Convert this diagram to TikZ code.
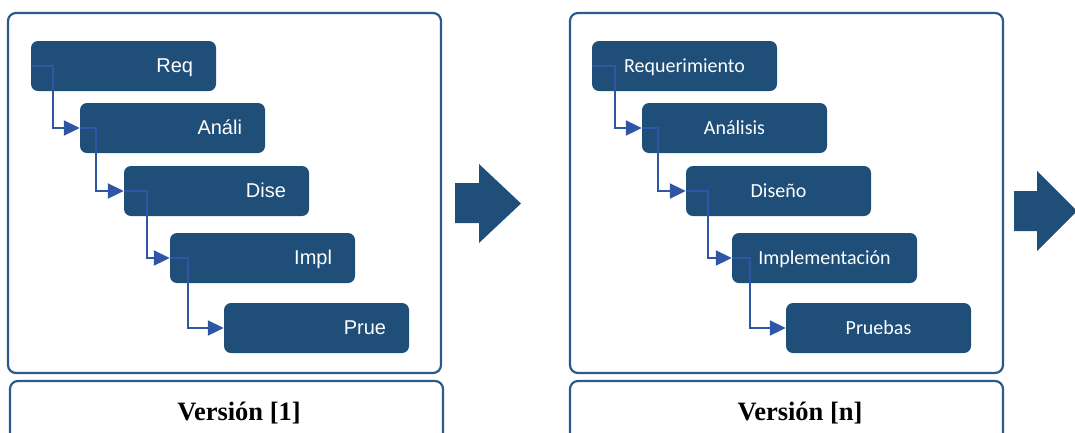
\documentclass[tikz,border=0pt]{standalone}
\usepackage{fontspec}
\setmainfont{Liberation Serif}
\newfontfamily\arialfont{Liberation Sans}
\newfontfamily\calibrifont{Carlito}
\usetikzlibrary{arrows.meta}

\definecolor{phasefill}{HTML}{1F4E79}
\definecolor{flowline}{HTML}{2F55A5}
\definecolor{frameline}{HTML}{2B5A8A}

\tikzset{
  frame/.style={draw=frameline, line width=2.2pt, rounded corners=8pt},
  phase/.style={fill=phasefill, draw=none, rounded corners=7pt,
    minimum width=185pt, minimum height=50pt, text=white, inner ysep=0pt},
  shortphase/.style={phase, font=\arialfont\fontsize{20}{23}\selectfont,
    text width=139pt, inner xsep=23pt, align=right,
    text height=14.5pt, text depth=2pt},
  longphase/.style={phase, font=\calibrifont\fontsize{20}{24}\selectfont,
    align=center, text height=13pt, text depth=0pt},
  flow/.style={draw=flowline, line width=2pt,
    -{Triangle[length=16pt,width=15pt]}},
  bigarrow/.style={fill=phasefill, draw=none},
  versionlabel/.style={font=\bfseries\fontsize{26.5}{30}\selectfont, anchor=base}
}

\begin{document}
\begin{tikzpicture}[x=1pt, y=-1pt]
  \useasboundingbox (0,0) rectangle (1075,432);
  \clip (0,0) rectangle (1075,432);

  % Version 1 frame and caption box
  \draw[frame] (8,13) rectangle (441,373);
  \draw[frame] (10,381) rectangle (443,450);
  \node[versionlabel] (v1) at (239,420) {Versión [1]};

  % Version n frame and caption box
  \draw[frame] (570,13) rectangle (1003,373);
  \draw[frame] (570,381) rectangle (1003,450);
  \node[versionlabel] (vn) at (800,420) {Versión [n]};

  % Phases, version 1
  \node[shortphase] (r1) at (123.5,66)  {Req};
  \node[shortphase] (a1) at (172.5,128) {Análi};
  \node[shortphase] (d1) at (216.5,191) {Dise};
  \node[shortphase] (i1) at (262.5,258) {Impl};
  \node[shortphase] (p1) at (316.5,328) {Prue};

  % Phases, version n
  \node[longphase] (r2) at (684.5,66)  {Requerimiento};
  \node[longphase] (a2) at (734.5,128) {Análisis};
  \node[longphase] (d2) at (778.5,191) {Diseño};
  \node[longphase] (i2) at (824.5,258) {Implementación};
  \node[longphase] (p2) at (878.5,328) {Pruebas};

  % Cascading connectors
  \draw[flow] (r1.west) -- ++(22,0) |- (a1.west);
  \draw[flow] (a1.west) -- ++(16,0) |- (d1.west);
  \draw[flow] (d1.west) -- ++(23,0) |- (i1.west);
  \draw[flow] (i1.west) -- ++(18,0) |- (p1.west);

  \draw[flow] (r2.west) -- ++(23,0) |- (a2.west);
  \draw[flow] (a2.west) -- ++(16,0) |- (d2.west);
  \draw[flow] (d2.west) -- ++(22,0) |- (i2.west);
  \draw[flow] (i2.west) -- ++(18,0) |- (p2.west);

  % Block arrows between versions
  \fill[bigarrow] (455,183) -- (479,183) -- (479,164) -- (521,203.5)
    -- (479,243) -- (479,223) -- (455,223) -- cycle;
  \fill[bigarrow] (1014,191) -- (1037,191) -- (1037,171) -- (1077,211)
    -- (1037,251) -- (1037,231) -- (1014,231) -- cycle;
\end{tikzpicture}
\end{document}
